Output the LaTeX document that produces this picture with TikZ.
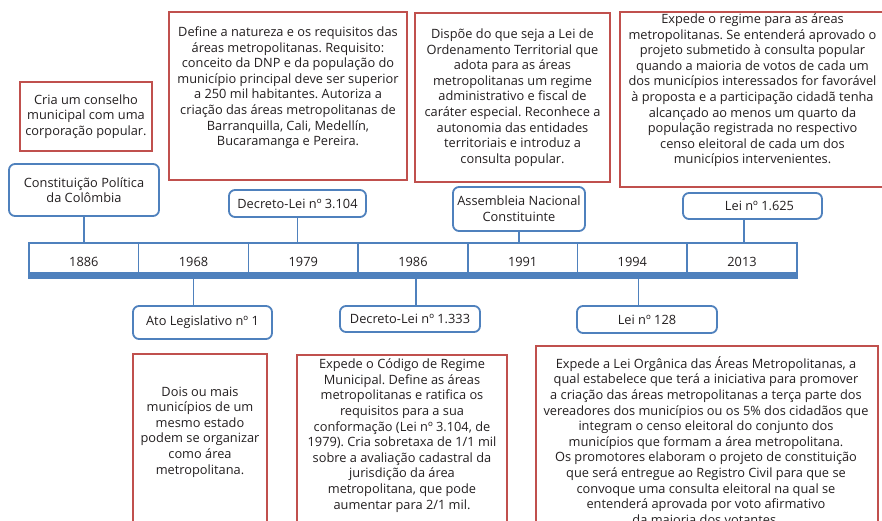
\documentclass[tikz,border=0pt]{standalone}
\usepackage{fontspec}
\setmainfont{Open Sans}
\frenchspacing
\definecolor{boxblue}{RGB}{79,129,189}
\definecolor{boxred}{RGB}{192,80,77}
\definecolor{ink}{RGB}{35,31,32}
\newcommand\boxfs{\fontsize{12.8}{15.6}\selectfont\frenchspacing}
\begin{document}
\begin{tikzpicture}[x=1pt,y=-1pt,
  txt/.style={font=\boxfs, text=ink, align=center},
  redbox/.style={draw=boxred, line width=2pt, txt, inner sep=0pt},
  bluebox/.style={draw=boxblue, line width=1.8pt, rounded corners=6pt, fill=white, txt, inner sep=0pt},
  cell/.style={draw=boxblue, line width=1.5pt, minimum width=109.7pt, minimum height=30pt,
               txt, text height=17pt, text depth=0pt, inner sep=0pt},
  link/.style={draw=boxblue, line width=1.6pt},
  bar/.style={draw=boxblue, line width=5.5pt}]
\useasboundingbox (0,0) rectangle (882,521);
\clip (0,0) rectangle (882,521);
\fill[white] (0,0) rectangle (882,521);

% timeline cells
\node[cell] (y1886) at (83.85,258) {1886};
\node[cell] (y1968) at (193.55,258) {1968};
\node[cell] (y1979) at (303.25,258) {1979};
\node[cell] (y1986) at (412.95,258) {1986};
\node[cell] (y1991) at (522.65,258) {1991};
\node[cell] (y1994) at (632.35,258) {1994};
\node[cell] (y2013) at (742.05,258) {2013};
\draw[bar] ([yshift=-2.75pt]y1886.south west) -- ([yshift=-2.75pt]y2013.south east);

% blue event boxes above
\node[bluebox, minimum width=150pt, minimum height=52pt] (const) at (84,190)
  {Constituição Política\\da Colômbia};
\node[bluebox, minimum width=137pt, minimum height=27pt] (dl3104) at (297.5,203.5)
  {Decreto-Lei nº 3.104};
\node[bluebox, minimum width=132pt, minimum height=44pt] (assemb) at (519,209)
  {Assembleia Nacional\\Constituinte};
\node[bluebox, minimum width=139pt, minimum height=26pt] (lei1625) at (752.5,206)
  {\hspace*{14pt}Lei nº 1.625};

% blue event boxes below
\node[bluebox, minimum width=139pt, minimum height=33pt] (ato) at (202.5,322.5)
  {Ato Legislativo nº 1};
\node[bluebox, minimum width=140pt, minimum height=26pt] (dl1333) at (410,319)
  {Decreto-Lei nº 1.333};
\node[bluebox, minimum width=140pt, minimum height=27pt] (lei128) at (647,319.5)
  {Lei nº 128};

% connectors
\draw[link] (const.south) -- (const.south |- y1886.north);
\draw[link] (dl3104.south) -- (dl3104.south |- y1979.north);
\draw[link] (assemb.south) -- (assemb.south |- y1991.north);
\draw[link] ([xshift=2pt]y2013.north) -- ([xshift=2pt]y2013.north |- lei1625.south);
\draw[link] (y1968.south) -- (y1968.south |- ato.north);
\draw[link] ([xshift=3pt]y1986.south) -- ([xshift=3pt]y1986.south |- dl1333.north);
\draw[link] ([xshift=6pt]y1994.south) -- ([xshift=6pt]y1994.south |- lei128.north);

% red description boxes above
\node[redbox, minimum width=132pt, minimum height=69pt] (cria) at (86,116.5)
  {Cria um conselho\\municipal com uma\\corporação popular.};
\node[redbox, minimum width=238pt, minimum height=168pt] (define) at (288,96)
  {Define a natureza e os requisitos das\\áreas metropolitanas. Requisito:\\conceito da DNP e da população do\\município principal deve ser superior\\a 250 mil habitantes. Autoriza a\\criação das áreas metropolitanas de\\Barranquilla, Cali, Medellín,\\Bucaramanga e Pereira.\\[4pt]};
\node[redbox, minimum width=195pt, minimum height=169pt] (dispoe) at (512.5,97.5)
  {Dispõe do que seja a Lei de\\Ordenamento Territorial que\\adota para as áreas\\metropolitanas um regime\\administrativo e fiscal de\\caráter especial. Reconhece a\\autonomia das entidades\\territoriais e introduz a\\consulta popular.};
\node[redbox, minimum width=265pt, minimum height=175pt] (regime) at (752.5,99.5)
  {Expede o regime para as áreas\\metropolitanas. Se entenderá aprovado o\\projeto submetido à consulta popular\\quando a maioria de votos de cada um\\dos municípios interessados for favorável\\à proposta e a participação cidadã tenha\\alcançado ao menos um quarto da\\população registrada no respectivo\\censo eleitoral de cada um dos\\municípios intervenientes.\\[6pt]};

% red description boxes below (running past the lower edge)
\node[redbox, anchor=north, minimum width=134pt, minimum height=250pt] (doisbox) at (200,353) {};
\node[txt] (dois) at (200,432)
  {Dois ou mais\\municípios de um\\mesmo estado\\podem se organizar\\como área\\metropolitana.};
\node[redbox, anchor=north, minimum width=210pt, minimum height=250pt] (codigobox) at (402,354) {};
\node[txt] (codigo) at (402,435.5)
  {Expede o Código de Regime\\Municipal. Define as áreas\\metropolitanas e ratifica os\\requisitos para a sua\\conformação (Lei nº 3.104, de\\1979). Cria sobretaxa de 1/1 mil\\sobre a avaliação cadastral da\\jurisdição da área\\metropolitana, que pode\\aumentar para 2/1 mil.};
\node[redbox, anchor=north west, minimum width=342pt, minimum height=250pt] (organicabox) at (535,345) {};
\node[txt] (organica) at (706,440.5)
  {Expede a Lei Orgânica das Áreas Metropolitanas, a\\qual estabelece que terá a iniciativa para promover\\a criação das áreas metropolitanas a terça parte dos\\vereadores dos municípios ou os 5\% dos cidadãos que\\integram o censo eleitoral do conjunto dos\\municípios que formam a área metropolitana.\\Os promotores elaboram o projeto de constituição\\que será entregue ao Registro Civil para que se\\convoque uma consulta eleitoral na qual se\\entenderá aprovada por voto afirmativo\\da maioria dos votantes.};
\end{tikzpicture}
\end{document}
